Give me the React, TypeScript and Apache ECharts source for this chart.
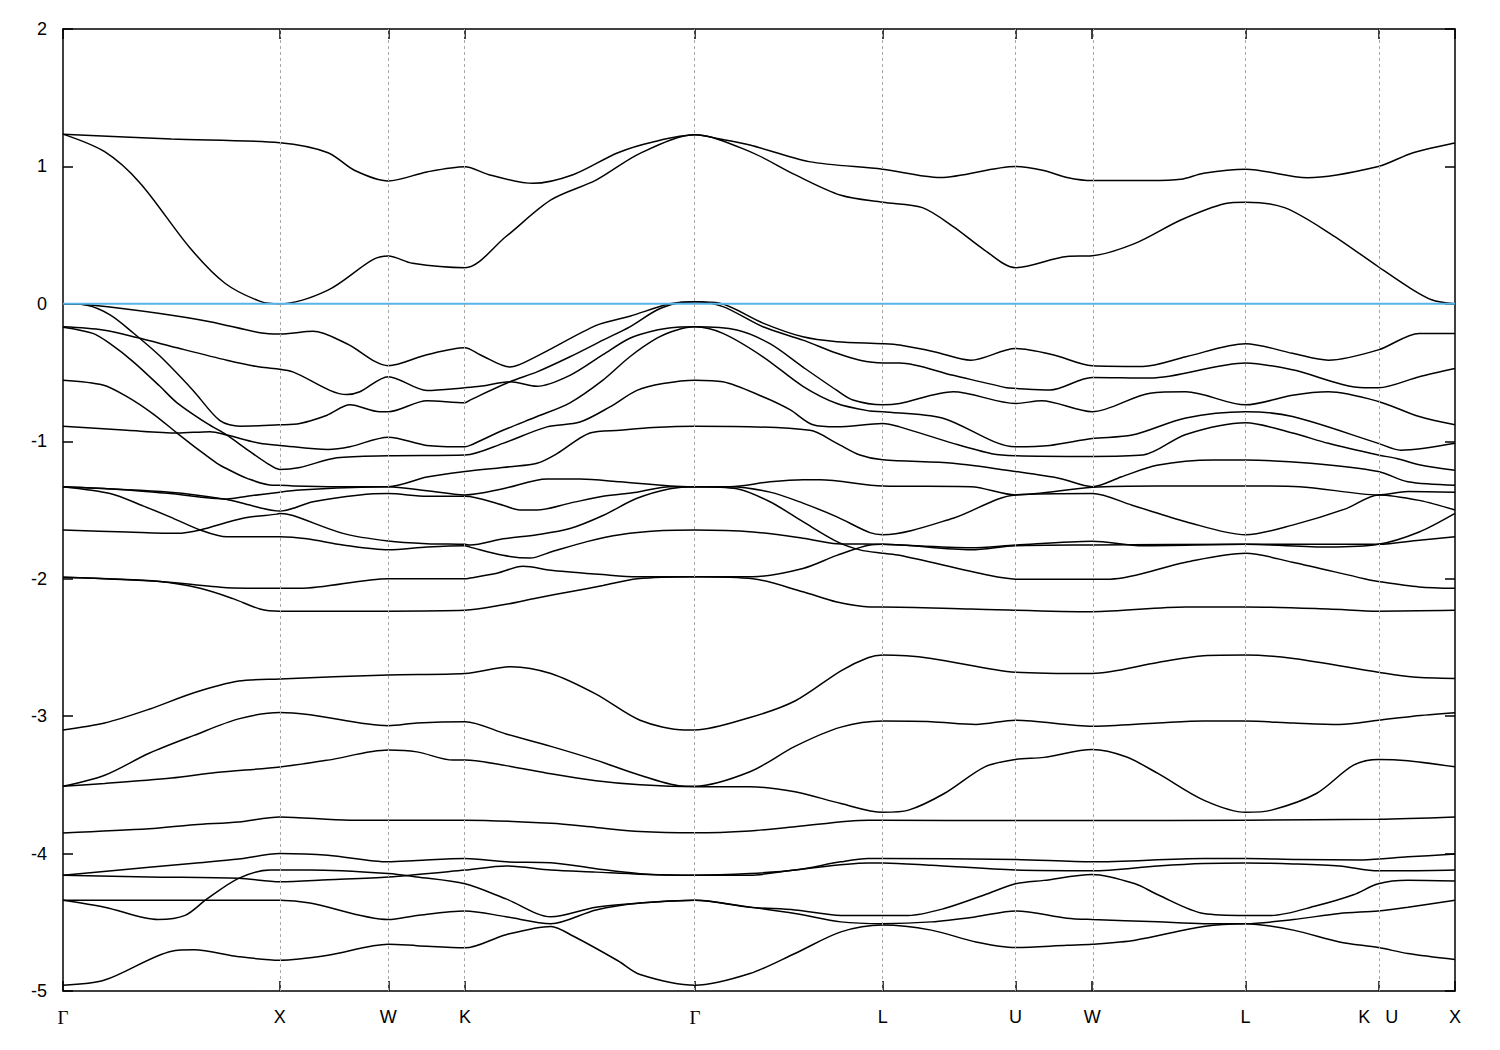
import React, { useEffect, useRef } from "react";
import * as echarts from "echarts";

// High-symmetry points along the k-path (path length units) and their labels
const K_POINTS = [0, 1.0, 1.5, 1.85355, 2.91421, 3.78024, 4.39261, 4.74616, 5.45327, 6.06564, 6.41919];
const K_LABELS = ["Γ", "X", "W", "K", "Γ", "L", "U", "W", "L", "K   U", "X"];
const Y_MIN = -5;
const Y_MAX = 2;
const Y_STEP = 1;
const FERMI_LEVEL = 0;

// Conduction bands
const CB_1 = [[0,1.235],[0.5,1.2],[1,1.172],[1.222,1.1],[1.346,0.97],[1.5,0.894],[1.678,0.96],[1.85355,0.998],[1.964,0.94],[2.167,0.877],[2.352,0.94],[2.559,1.1],[2.725,1.18],[2.91421,1.23],[3.0295,1.2],[3.1678,1.156],[3.4399,1.035],[3.78024,0.98],[4.045,0.92],[4.39261,1.0],[4.523,0.97],[4.63,0.92],[4.74616,0.897],[5.008,0.897],[5.155,0.906],[5.26,0.95],[5.45327,0.98],[5.739,0.918],[6.06564,1.0],[6.226,1.1],[6.41919,1.17]];
const CB_2 = [[0,1.235],[0.192,1.107],[0.355,0.88],[0.584,0.41],[0.747,0.15],[0.913,0.016],[1,0.0],[1.222,0.1],[1.427,0.32],[1.5,0.348],[1.612,0.295],[1.85355,0.263],[2.043,0.49],[2.25,0.756],[2.458,0.9],[2.661,1.095],[2.91421,1.23],[3.1678,1.108],[3.3754,0.94],[3.5874,0.79],[3.78024,0.739],[3.963,0.7],[4.107,0.56],[4.251,0.39],[4.39261,0.263],[4.63,0.345],[4.74616,0.35],[4.944,0.44],[5.155,0.61],[5.361,0.73],[5.45327,0.74],[5.633,0.7],[5.845,0.51],[6.06564,0.27],[6.202,0.125],[6.311,0.03],[6.41919,0.0]];

// Upper valence bands
const VB_01 = [[0,0.0],[0.138,-0.01],[0.447,-0.07],[0.678,-0.13],[0.908,-0.21],[1,-0.22],[1.153,-0.2],[1.309,-0.29],[1.5,-0.45],[1.678,-0.37],[1.85355,-0.32],[1.923,-0.37],[2.061,-0.46],[2.186,-0.38],[2.462,-0.155],[2.614,-0.09],[2.799,0.0],[2.91421,0.015],[3.0295,0.004],[3.2278,-0.14],[3.4122,-0.24],[3.569,-0.275],[3.78024,-0.29],[3.858,-0.3],[4.022,-0.35],[4.187,-0.41],[4.39261,-0.325],[4.565,-0.37],[4.74616,-0.45],[4.98,-0.455],[5.178,-0.385],[5.45327,-0.29],[5.67,-0.36],[5.835,-0.41],[6.06564,-0.335],[6.254,-0.215],[6.41919,-0.215]];
const VB_02 = [[0,0.0],[0.111,-0.01],[0.217,-0.08],[0.323,-0.21],[0.447,-0.38],[0.6,-0.63],[0.724,-0.85],[0.816,-0.89],[1,-0.88],[1.092,-0.87],[1.218,-0.81],[1.323,-0.735],[1.461,-0.785],[1.5,-0.785],[1.678,-0.705],[1.85355,-0.72],[1.877,-0.7],[2.061,-0.567],[2.186,-0.495],[2.338,-0.385],[2.49,-0.264],[2.614,-0.167],[2.739,-0.045],[2.831,0.004],[2.91421,0.015],[3.0433,-0.02],[3.2278,-0.167],[3.4122,-0.264],[3.569,-0.36],[3.675,-0.41],[3.78024,-0.43],[3.858,-0.43],[4.105,-0.52],[4.351,-0.61],[4.39261,-0.615],[4.551,-0.627],[4.74616,-0.535],[5.013,-0.54],[5.45327,-0.43],[5.67,-0.48],[6.001,-0.61],[6.06564,-0.61],[6.254,-0.53],[6.41919,-0.47]];
const VB_03 = [[0,-0.167],[0.184,-0.19],[0.341,-0.245],[0.526,-0.32],[0.756,-0.41],[0.908,-0.46],[1,-0.475],[1.06,-0.495],[1.309,-0.66],[1.369,-0.64],[1.5,-0.53],[1.678,-0.63],[1.85355,-0.61],[1.923,-0.6],[2.061,-0.567],[2.186,-0.6],[2.338,-0.52],[2.49,-0.37],[2.614,-0.25],[2.739,-0.19],[2.831,-0.17],[2.91421,-0.167],[3.1079,-0.19],[3.2601,-0.29],[3.4122,-0.46],[3.569,-0.63],[3.6428,-0.7],[3.78024,-0.735],[3.858,-0.725],[4.105,-0.64],[4.39261,-0.725],[4.513,-0.705],[4.74616,-0.785],[5.013,-0.65],[5.178,-0.64],[5.45327,-0.735],[5.67,-0.665],[5.835,-0.64],[6.06564,-0.71],[6.254,-0.82],[6.41919,-0.88]];
const VB_04 = [[0,-0.17],[0.138,-0.215],[0.217,-0.29],[0.323,-0.42],[0.447,-0.6],[0.526,-0.72],[0.664,-0.87],[0.756,-0.955],[0.849,-1.06],[0.941,-1.16],[1,-1.205],[1.092,-1.19],[1.263,-1.12],[1.5,-1.105],[1.85355,-1.1],[2.029,-1.015],[2.232,-0.895],[2.384,-0.86],[2.522,-0.75],[2.647,-0.63],[2.767,-0.58],[2.91421,-0.555],[3.0433,-0.567],[3.2278,-0.676],[3.3523,-0.77],[3.4584,-0.88],[3.569,-0.895],[3.78024,-0.87],[3.858,-0.895],[4.105,-1.015],[4.283,-1.09],[4.39261,-1.105],[4.74616,-1.11],[4.98,-1.1],[5.178,-0.95],[5.45327,-0.865],[5.67,-0.94],[5.835,-1.015],[6.06564,-1.1],[6.15,-1.125],[6.254,-1.17],[6.41919,-1.21]];
const VB_05 = [[0,-0.555],[0.184,-0.59],[0.295,-0.675],[0.415,-0.8],[0.526,-0.94],[0.632,-1.07],[0.71,-1.16],[0.756,-1.2],[0.849,-1.27],[0.968,-1.32],[1,-1.32],[1.06,-1.325],[1.263,-1.33],[1.5,-1.33],[1.678,-1.26],[1.85355,-1.22],[2.061,-1.185],[2.186,-1.16],[2.278,-1.09],[2.43,-0.94],[2.568,-0.92],[2.721,-0.9],[2.91421,-0.89],[3.4445,-0.92],[3.569,-1.015],[3.675,-1.1],[3.78024,-1.135],[4.105,-1.16],[4.39261,-1.22],[4.597,-1.27],[4.74616,-1.33],[4.879,-1.26],[5.045,-1.175],[5.306,-1.137],[5.45327,-1.137],[5.753,-1.16],[6.06564,-1.22],[6.202,-1.295],[6.41919,-1.32]];
const VB_06 = [[0,-0.89],[0.295,-0.92],[0.526,-0.94],[0.678,-0.93],[0.756,-0.955],[0.908,-1.015],[1,-1.03],[1.222,-1.06],[1.323,-1.04],[1.5,-0.97],[1.678,-1.03],[1.85355,-1.04],[1.877,-1.03],[2.029,-0.92],[2.186,-0.82],[2.338,-0.72],[2.49,-0.555],[2.614,-0.385],[2.739,-0.25],[2.831,-0.19],[2.91421,-0.167],[3.0433,-0.215],[3.2278,-0.385],[3.4122,-0.6],[3.569,-0.725],[3.7211,-0.78],[3.78024,-0.785],[4.054,-0.83],[4.39261,-1.04],[4.551,-1.03],[4.74616,-0.98],[4.93,-0.955],[5.178,-0.83],[5.45327,-0.785],[5.67,-0.82],[6.06564,-1.015],[6.169,-1.065],[6.41919,-1.015]];
const VB_07 = [[0,-1.33],[0.263,-1.35],[0.493,-1.38],[0.756,-1.42],[0.849,-1.4],[1,-1.37],[1.092,-1.355],[1.263,-1.34],[1.5,-1.33],[1.678,-1.36],[1.85355,-1.39],[2.029,-1.345],[2.232,-1.275],[2.384,-1.275],[2.568,-1.295],[2.799,-1.325],[2.91421,-1.33],[3.0756,-1.33],[3.2601,-1.295],[3.4122,-1.28],[3.4906,-1.28],[3.78024,-1.325],[4.187,-1.33],[4.39261,-1.39],[4.74616,-1.335],[5.045,-1.325],[5.45327,-1.325],[5.702,-1.33],[6.06564,-1.39],[6.202,-1.365],[6.41919,-1.37]];
const VB_08 = [[0,-1.33],[0.493,-1.37],[0.756,-1.423],[0.849,-1.46],[1,-1.508],[1.153,-1.44],[1.369,-1.39],[1.5,-1.38],[1.678,-1.4],[1.85355,-1.4],[2.029,-1.465],[2.107,-1.5],[2.186,-1.5],[2.338,-1.45],[2.49,-1.4],[2.647,-1.37],[2.799,-1.33],[2.91421,-1.33],[3.0756,-1.33],[3.2601,-1.37],[3.4122,-1.45],[3.569,-1.55],[3.7211,-1.665],[3.78024,-1.68],[4.105,-1.56],[4.39261,-1.39],[4.74616,-1.38],[4.93,-1.465],[5.178,-1.585],[5.45327,-1.68],[5.67,-1.61],[5.918,-1.49],[6.06564,-1.39],[6.254,-1.43],[6.41919,-1.5]];
const VB_09 = [[0,-1.646],[0.295,-1.66],[0.526,-1.67],[0.632,-1.645],[0.83,-1.56],[0.987,-1.53],[1,-1.525],[1.06,-1.54],[1.291,-1.67],[1.5,-1.726],[1.678,-1.745],[1.85355,-1.75],[1.877,-1.755],[2.029,-1.71],[2.186,-1.68],[2.338,-1.635],[2.49,-1.54],[2.647,-1.415],[2.799,-1.345],[2.91421,-1.33],[3.1079,-1.345],[3.2601,-1.44],[3.4122,-1.585],[3.569,-1.73],[3.675,-1.79],[3.78024,-1.815],[3.858,-1.83],[4.269,-1.975],[4.39261,-2.003],[4.74616,-2.003],[4.829,-2.003],[5.178,-1.88],[5.45327,-1.815],[5.67,-1.88],[6.001,-2.0],[6.06564,-2.02],[6.254,-2.06],[6.41919,-2.07]];
const VB_10 = [[0,-1.33],[0.217,-1.38],[0.369,-1.47],[0.493,-1.55],[0.632,-1.645],[0.756,-1.695],[1,-1.695],[1.125,-1.71],[1.291,-1.755],[1.5,-1.79],[1.678,-1.77],[1.85355,-1.76],[1.877,-1.77],[2.029,-1.83],[2.153,-1.85],[2.26,-1.8],[2.416,-1.73],[2.568,-1.68],[2.767,-1.65],[2.91421,-1.646],[3.1817,-1.66],[3.4122,-1.705],[3.569,-1.745],[3.78024,-1.75],[4.187,-1.775],[4.39261,-1.755],[4.74616,-1.727],[4.98,-1.76],[5.45327,-1.75],[5.835,-1.77],[6.06564,-1.75],[6.254,-1.66],[6.41919,-1.525]];
const VB_11 = [[0,-1.99],[0.447,-2.02],[0.756,-2.065],[1,-2.07],[1.092,-2.07],[1.5,-2.0],[1.85355,-2.0],[1.877,-1.995],[2.001,-1.96],[2.121,-1.91],[2.26,-1.94],[2.49,-1.97],[2.647,-1.985],[2.91421,-1.985],[3.1817,-1.985],[3.4122,-1.925],[3.569,-1.83],[3.7211,-1.755],[3.78024,-1.75],[4.187,-1.79],[4.39261,-1.76],[4.74616,-1.755],[5.45327,-1.75],[6.06564,-1.75],[6.254,-1.72],[6.41919,-1.695]];
const VB_12 = [[0,-1.99],[0.447,-2.02],[0.632,-2.07],[0.784,-2.145],[0.908,-2.22],[1,-2.236],[1.06,-2.236],[1.5,-2.236],[1.85355,-2.23],[2.029,-2.19],[2.186,-2.14],[2.338,-2.095],[2.49,-2.05],[2.647,-2.0],[2.91421,-1.985],[3.1817,-2.0],[3.4122,-2.095],[3.569,-2.17],[3.7211,-2.205],[3.78024,-2.205],[4.187,-2.22],[4.74616,-2.24],[5.178,-2.205],[5.45327,-2.205],[5.835,-2.22],[6.06564,-2.236],[6.41919,-2.23]];

// Lower valence bands
const LB_1 = [[0,-3.1],[0.192,-3.05],[0.397,-2.95],[0.604,-2.83],[0.81,-2.745],[1,-2.73],[1.5,-2.7],[1.85355,-2.69],[2.066,-2.64],[2.25,-2.69],[2.458,-2.84],[2.661,-3.03],[2.868,-3.1],[2.91421,-3.1],[3.1678,-3.01],[3.3754,-2.89],[3.5874,-2.67],[3.7119,-2.575],[3.78024,-2.556],[4.004,-2.58],[4.39261,-2.68],[4.74616,-2.69],[5.049,-2.61],[5.26,-2.56],[5.45327,-2.556],[5.674,-2.58],[6.06564,-2.68],[6.226,-2.716],[6.41919,-2.726]];
const LB_2 = [[0,-3.51],[0.192,-3.43],[0.397,-3.27],[0.604,-3.14],[0.81,-3.02],[1,-2.973],[1.139,-2.99],[1.5,-3.07],[1.632,-3.05],[1.85355,-3.04],[2.043,-3.13],[2.25,-3.22],[2.458,-3.32],[2.661,-3.43],[2.868,-3.51],[2.91421,-3.51],[3.1678,-3.405],[3.3754,-3.22],[3.5874,-3.08],[3.78024,-3.036],[4.004,-3.04],[4.21,-3.06],[4.39261,-3.03],[4.74616,-3.073],[5.049,-3.05],[5.26,-3.036],[5.45327,-3.036],[5.674,-3.05],[5.886,-3.06],[6.06564,-3.03],[6.226,-3.0],[6.41919,-2.975]];
const LB_3 = [[0,-3.51],[0.192,-3.49],[0.501,-3.45],[0.706,-3.41],[1,-3.37],[1.222,-3.32],[1.5,-3.247],[1.632,-3.26],[1.798,-3.32],[1.85355,-3.32],[2.043,-3.36],[2.25,-3.42],[2.458,-3.47],[2.661,-3.5],[2.91421,-3.514],[3.1678,-3.514],[3.3754,-3.55],[3.5874,-3.636],[3.78024,-3.7],[3.899,-3.684],[4.064,-3.563],[4.251,-3.369],[4.39261,-3.315],[4.523,-3.3],[4.74616,-3.243],[4.902,-3.296],[5.049,-3.417],[5.26,-3.611],[5.45327,-3.7],[5.573,-3.684],[5.78,-3.563],[5.951,-3.357],[6.06564,-3.315],[6.202,-3.325],[6.41919,-3.369]];
const LB_4 = [[0,-3.85],[0.397,-3.82],[0.604,-3.79],[0.81,-3.77],[1,-3.733],[1.323,-3.757],[1.85355,-3.757],[2.25,-3.78],[2.458,-3.81],[2.661,-3.84],[2.91421,-3.849],[3.1678,-3.835],[3.3754,-3.805],[3.7119,-3.757],[3.78024,-3.757],[4.39261,-3.76],[4.74616,-3.76],[5.45327,-3.757],[6.06564,-3.75],[6.41919,-3.733]];
const LB_5 = [[0,-4.157],[0.397,-4.1],[0.604,-4.07],[0.81,-4.04],[1,-4.0],[1.222,-4.012],[1.5,-4.06],[1.632,-4.05],[1.85355,-4.036],[2.043,-4.06],[2.25,-4.066],[2.458,-4.11],[2.661,-4.146],[2.91421,-4.157],[3.1678,-4.145],[3.3754,-4.12],[3.5874,-4.06],[3.7119,-4.036],[3.78024,-4.036],[4.39261,-4.043],[4.74616,-4.06],[5.26,-4.036],[5.45327,-4.036],[5.697,-4.043],[5.992,-4.046],[6.202,-4.024],[6.41919,-4.004]];
const LB_6 = [[0,-4.157],[0.397,-4.17],[0.81,-4.18],[1,-4.205],[1.222,-4.19],[1.5,-4.17],[1.85355,-4.12],[2.043,-4.09],[2.25,-4.12],[2.458,-4.135],[2.661,-4.15],[2.91421,-4.157],[3.1678,-4.157],[3.3754,-4.12],[3.7119,-4.068],[3.78024,-4.068],[4.004,-4.085],[4.39261,-4.12],[4.74616,-4.125],[5.049,-4.09],[5.26,-4.072],[5.45327,-4.068],[5.674,-4.075],[5.886,-4.09],[6.06564,-4.125],[6.202,-4.125],[6.41919,-4.12]];
const LB_7 = [[0,-4.34],[0.192,-4.39],[0.438,-4.48],[0.563,-4.45],[0.664,-4.33],[0.81,-4.18],[0.955,-4.12],[1,-4.12],[1.139,-4.12],[1.5,-4.145],[1.632,-4.17],[1.85355,-4.22],[2.043,-4.33],[2.25,-4.46],[2.458,-4.39],[2.661,-4.36],[2.91421,-4.34],[3.1678,-4.39],[3.3754,-4.41],[3.5874,-4.45],[3.78024,-4.45],[3.899,-4.45],[4.064,-4.4],[4.251,-4.3],[4.39261,-4.22],[4.523,-4.195],[4.74616,-4.152],[4.944,-4.22],[5.049,-4.3],[5.26,-4.436],[5.45327,-4.45],[5.573,-4.45],[5.78,-4.38],[5.951,-4.3],[6.06564,-4.22],[6.202,-4.195],[6.41919,-4.2]];
const LB_8 = [[0,-4.34],[1,-4.34],[1.139,-4.36],[1.5,-4.48],[1.632,-4.45],[1.85355,-4.417],[2.043,-4.46],[2.25,-4.51],[2.458,-4.41],[2.661,-4.36],[2.91421,-4.34],[3.1678,-4.39],[3.3754,-4.436],[3.5874,-4.497],[3.78024,-4.51],[4.004,-4.497],[4.21,-4.46],[4.39261,-4.417],[4.63,-4.47],[4.74616,-4.48],[5.049,-4.497],[5.26,-4.51],[5.45327,-4.51],[5.674,-4.48],[5.886,-4.436],[6.06564,-4.417],[6.202,-4.39],[6.41919,-4.34]];
const LB_9 = [[0,-4.958],[0.192,-4.92],[0.501,-4.71],[0.604,-4.7],[0.81,-4.75],[1,-4.776],[1.222,-4.74],[1.5,-4.66],[1.632,-4.67],[1.85355,-4.686],[2.043,-4.59],[2.25,-4.53],[2.352,-4.6],[2.559,-4.78],[2.661,-4.88],[2.91421,-4.958],[3.1678,-4.873],[3.3754,-4.727],[3.5874,-4.57],[3.78024,-4.52],[4.004,-4.557],[4.21,-4.643],[4.39261,-4.684],[4.63,-4.667],[4.74616,-4.66],[4.944,-4.63],[5.26,-4.53],[5.45327,-4.51],[5.674,-4.557],[5.886,-4.643],[6.06564,-4.684],[6.202,-4.727],[6.41919,-4.771]];

const BANDS = [CB_1, CB_2, VB_01, VB_02, VB_03, VB_04, VB_05, VB_06, VB_07, VB_08, VB_09, VB_10, VB_11, VB_12, LB_1, LB_2, LB_3, LB_4, LB_5, LB_6, LB_7, LB_8, LB_9];

export default function App() {
  const ref = useRef<HTMLDivElement>(null);
  useEffect(() => {
    if (!ref.current) return;
    const chart = echarts.init(ref.current, null, { renderer: "svg" });
    const xMax = K_POINTS[K_POINTS.length - 1];
    const labelFor = (v: number) => {
      const i = K_POINTS.findIndex((k) => Math.abs(k - v) < 1e-4);
      if (i < 0) return "";
      const t = K_LABELS[i];
      return t === "Γ" ? "{g|Γ}" : t;
    };
    const font = "'Liberation Sans', Arial, sans-serif";
    const axisLineStyle = { color: "#000", width: 1.5 };
    const tickStyle = { color: "#000", width: 1.5 };
    const innerLines = K_POINTS.slice(1, -1).map((k) => ({ xAxis: k }));

    const series: any[] = BANDS.map((band, i) => ({
      name: "band" + i,
      type: "line",
      data: band,
      showSymbol: false,
      symbol: "none",
      smooth: 0.3,
      lineStyle: { color: "#000", width: 1.5 },
      z: 3,
      silent: true,
    }));
    series.unshift({
      name: "sym",
      type: "line",
      data: [],
      z: 1,
      silent: true,
      markLine: {
        silent: true,
        symbol: ["none", "none"],
        label: { show: false },
        lineStyle: { color: "#a8a8a8", width: 1, type: [3, 3] },
        data: innerLines,
      },
    });
    series.push({
      name: "fermi",
      type: "line",
      data: [[0, FERMI_LEVEL], [xMax, FERMI_LEVEL]],
      showSymbol: false,
      symbol: "none",
      lineStyle: { color: "#56b4e9", width: 2 },
      z: 4,
      silent: true,
    });

    chart.setOption({
      animation: false,
      backgroundColor: "#fff",
      grid: { left: 63, right: 45, top: 29, bottom: 59, containLabel: false },
      xAxis: [
        {
          type: "value",
          min: 0,
          max: xMax,
          position: "bottom",
          axisLine: { show: true, onZero: false, lineStyle: axisLineStyle },
          axisTick: { show: true, inside: true, length: 10, customValues: K_POINTS, lineStyle: tickStyle },
          axisLabel: {
            show: true,
            customValues: K_POINTS,
            formatter: (v: number) => labelFor(v),
            color: "#000",
            fontSize: 18,
            fontFamily: font,
            margin: 17,
            rich: { g: { fontFamily: "'Liberation Serif', 'DejaVu Serif', serif", fontSize: 19, color: "#000" } },
          },
          splitLine: { show: false },
        },
        {
          type: "value",
          min: 0,
          max: xMax,
          position: "top",
          axisLine: { show: true, onZero: false, lineStyle: axisLineStyle },
          axisTick: { show: true, inside: true, length: 10, customValues: K_POINTS, lineStyle: tickStyle },
          axisLabel: { show: false },
          splitLine: { show: false },
        },
      ],
      yAxis: [
        {
          type: "value",
          min: Y_MIN,
          max: Y_MAX,
          interval: Y_STEP,
          position: "left",
          axisLine: { show: true, onZero: false, lineStyle: axisLineStyle },
          axisTick: { show: true, inside: true, length: 10, lineStyle: tickStyle },
          axisLabel: { show: true, color: "#000", fontSize: 18, fontFamily: font, margin: 16 },
          splitLine: { show: false },
        },
        {
          type: "value",
          min: Y_MIN,
          max: Y_MAX,
          interval: Y_STEP,
          position: "right",
          axisLine: { show: true, onZero: false, lineStyle: axisLineStyle },
          axisTick: { show: true, inside: true, length: 10, lineStyle: tickStyle },
          axisLabel: { show: false },
          splitLine: { show: false },
        },
      ],
      series,
    });
    return () => chart.dispose();
  }, []);
  return (
    <div
      ref={ref}
      style={{ position: "fixed", left: 0, top: 0, width: 1500, height: 1050, background: "#fff" }}
    />
  );
}
